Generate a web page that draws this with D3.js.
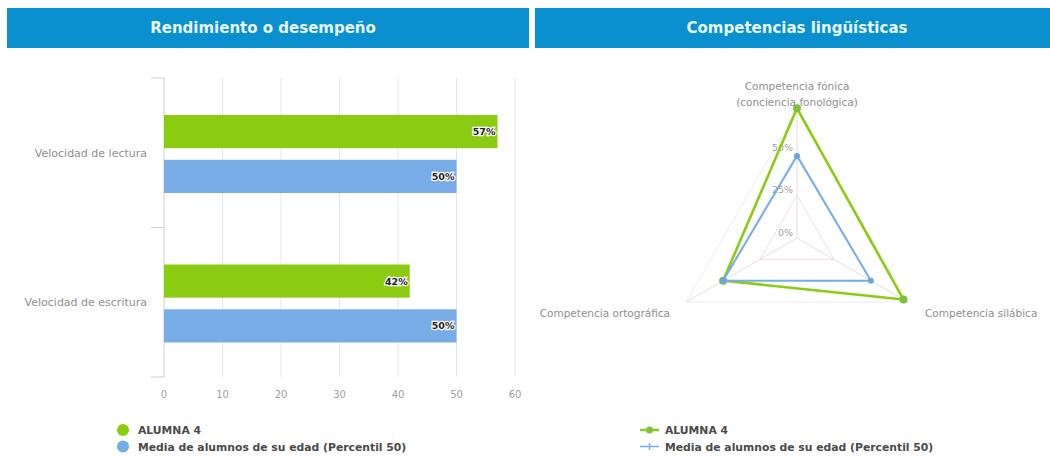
<!DOCTYPE html>
<html><head><meta charset="utf-8">
<script src="https://cdn.jsdelivr.net/npm/d3@7"></script>
<style>body{margin:0;background:#fff;}svg{display:block;font-family:"DejaVu Sans",Verdana,sans-serif;}</style>
</head><body>
<script>
const titles = ["Rendimiento o desempeño", "Competencias lingüísticas"];
const seriesNames = ["ALUMNA 4", "Media de alumnos de su edad (Percentil 50)"];
const barCategories = ["Velocidad de lectura", "Velocidad de escritura"];
const barAlumna = [57, 42];
const barMedia = [50, 50];
const xTicks = [0, 10, 20, 30, 40, 50, 60];
const radarAxes = [["Competencia fónica", "(conciencia fonológica)"], ["Competencia silábica"], ["Competencia ortográfica"]];
const radarAlumna = [76, 72, 50];
const radarMedia = [48, 50, 50];
const radarTicks = [0, 25, 50, 75];
const colors = ["#8bcc12", "#78ace6"];

const svg = d3.select("body").append("svg").attr("width", 1050).attr("height", 456);

// Headers
const headers = [{x: 7, w: 522}, {x: 535, w: 515}];
headers.forEach((h, i) => {
  svg.append("rect").attr("x", h.x).attr("y", 8).attr("width", h.w).attr("height", 40).attr("fill", "#0a8fcf");
  svg.append("text").attr("x", h.x + (i === 0 ? 256 : 262)).attr("y", 33).attr("text-anchor", "middle")
    .attr("fill", "#e8f7ff").attr("font-weight", "bold").attr("font-size", 15).text(titles[i]);
});

// ---- Bar chart ----
const x = d3.scaleLinear().domain([0, 60]).range([164, 515]);
const y0 = d3.scaleBand().domain(barCategories).range([78, 377]);
const y1 = d3.scaleBand().domain([0, 1]).range([37, 115]).paddingInner(0.26);

const gBar = svg.append("g");
gBar.selectAll("line.grid").data(xTicks.slice(1)).join("line")
  .attr("x1", d => x(d)).attr("x2", d => x(d)).attr("y1", 78).attr("y2", 377)
  .attr("stroke", "#e6e6e6").attr("stroke-width", 1);
gBar.append("line").attr("x1", x(0)).attr("x2", x(0)).attr("y1", 78).attr("y2", 377).attr("stroke", "#cfcfcf");
const yTickPos = [78, 78 + y0.bandwidth(), 377];
gBar.selectAll("line.yt").data(yTickPos).join("line")
  .attr("x1", 151).attr("x2", x(0)).attr("y1", d => d).attr("y2", d => d).attr("stroke", "#cfcfcf");

gBar.selectAll("text.xt").data(xTicks).join("text")
  .attr("x", d => x(d)).attr("y", 398).attr("text-anchor", "middle")
  .attr("font-size", 10).attr("fill", "#a0a0a0").text(d => d);

gBar.selectAll("text.cat").data(barCategories).join("text")
  .attr("x", 147).attr("y", d => y0(d) + y0.bandwidth() / 2 + 4).attr("text-anchor", "end")
  .attr("font-size", 11).attr("fill", "#909090").text(d => d);

const barSeries = [barAlumna, barMedia];
barSeries.forEach((vals, si) => {
  barCategories.forEach((c, ci) => {
    const yy = y0(c) + y1(si);
    gBar.append("rect").attr("x", x(0)).attr("y", yy).attr("width", x(vals[ci]) - x(0))
      .attr("height", y1.bandwidth()).attr("fill", colors[si]);
    gBar.append("text").attr("x", x(vals[ci]) - 2).attr("y", yy + y1.bandwidth() / 2 + 3.5)
      .attr("text-anchor", "end").attr("font-size", 9.5).attr("font-weight", "bold")
      .attr("fill", "#222").attr("stroke", "#fff").attr("stroke-width", 2.5)
      .attr("paint-order", "stroke").text(vals[ci] + "%");
  });
});

// Bar legend
seriesNames.forEach((n, i) => {
  svg.append("circle").attr("cx", 123).attr("cy", 430 + i * 16.5).attr("r", 6).attr("fill", colors[i]);
  svg.append("text").attr("x", 138).attr("y", 434 + i * 16.5).attr("font-size", 10.8).attr("font-weight", "bold")
    .attr("fill", "#4a4a4a").text(n);
});

// ---- Radar ----
const cx = 797, cy = 238;
const r = d3.scaleLinear().domain([0, 75]).range([0, 128]);
const angle = i => -Math.PI / 2 + i * 2 * Math.PI / 3;
const pt = (i, v) => [cx + r(v) * Math.cos(angle(i)), cy + r(v) * Math.sin(angle(i))];
const gR = svg.append("g");
const gridColors = ["#f0d8d8", "#f1dede", "#dfe8f2", "#ececec"];
radarTicks.slice(1).forEach((t, k) => {
  gR.append("path").attr("d", d3.line()([0, 1, 2].map(i => pt(i, t))) + "Z")
    .attr("fill", "none").attr("stroke", gridColors[k + 1]).attr("stroke-width", 1);
});
[0, 1, 2].forEach(i => {
  const p = pt(i, 75);
  gR.append("line").attr("x1", cx).attr("y1", cy).attr("x2", p[0]).attr("y2", p[1]).attr("stroke", "#eadcdc");
});
radarTicks.slice(0, 3).forEach(t => {
  gR.append("text").attr("x", cx - 4).attr("y", cy - r(t) - 2).attr("text-anchor", "end")
    .attr("font-size", 9.5).attr("fill", "#a0a0a0").text(t + "%");
});

const radarSeries = [radarAlumna, radarMedia];
radarSeries.forEach((vals, si) => {
  const pts = vals.map((v, i) => pt(i, v));
  gR.append("path").attr("d", d3.line()(pts) + "Z").attr("fill", "none")
    .attr("stroke", colors[si]).attr("stroke-width", si === 0 ? 2.6 : 2);
  gR.selectAll(null).data(pts).join("circle").attr("cx", d => d[0]).attr("cy", d => d[1])
    .attr("r", si === 0 ? 4 : 3).attr("fill", si === 0 ? "#7ec23a" : "#6fa3e0");
});

// Radar axis labels
const lab = {fs: 10.5, fill: "#909090"};
gR.append("text").attr("x", cx).attr("y", 90).attr("text-anchor", "middle").attr("font-size", lab.fs).attr("fill", lab.fill).text(radarAxes[0][0]);
gR.append("text").attr("x", cx).attr("y", 106).attr("text-anchor", "middle").attr("font-size", lab.fs).attr("fill", lab.fill).text(radarAxes[0][1]);
gR.append("text").attr("x", 925).attr("y", 317).attr("text-anchor", "start").attr("font-size", lab.fs).attr("fill", lab.fill).text(radarAxes[1][0]);
gR.append("text").attr("x", 670).attr("y", 317).attr("text-anchor", "end").attr("font-size", lab.fs).attr("fill", lab.fill).text(radarAxes[2][0]);

// Radar legend
seriesNames.forEach((n, i) => {
  const yy = 430 + i * 16.5;
  svg.append("line").attr("x1", 640).attr("x2", 659).attr("y1", yy).attr("y2", yy)
    .attr("stroke", colors[i]).attr("stroke-width", i === 0 ? 2.5 : 1.5);
  if (i === 0) svg.append("circle").attr("cx", 649.5).attr("cy", yy).attr("r", 3.5).attr("fill", "#7ec23a");
  else svg.append("path").attr("d", `M649.5,${yy - 3.5}V${yy + 3.5}`).attr("stroke", colors[i]).attr("stroke-width", 1.5);
  svg.append("text").attr("x", 665).attr("y", yy + 4).attr("font-size", 10.8).attr("font-weight", "bold")
    .attr("fill", "#4a4a4a").text(n);
});
</script>
</body></html>
